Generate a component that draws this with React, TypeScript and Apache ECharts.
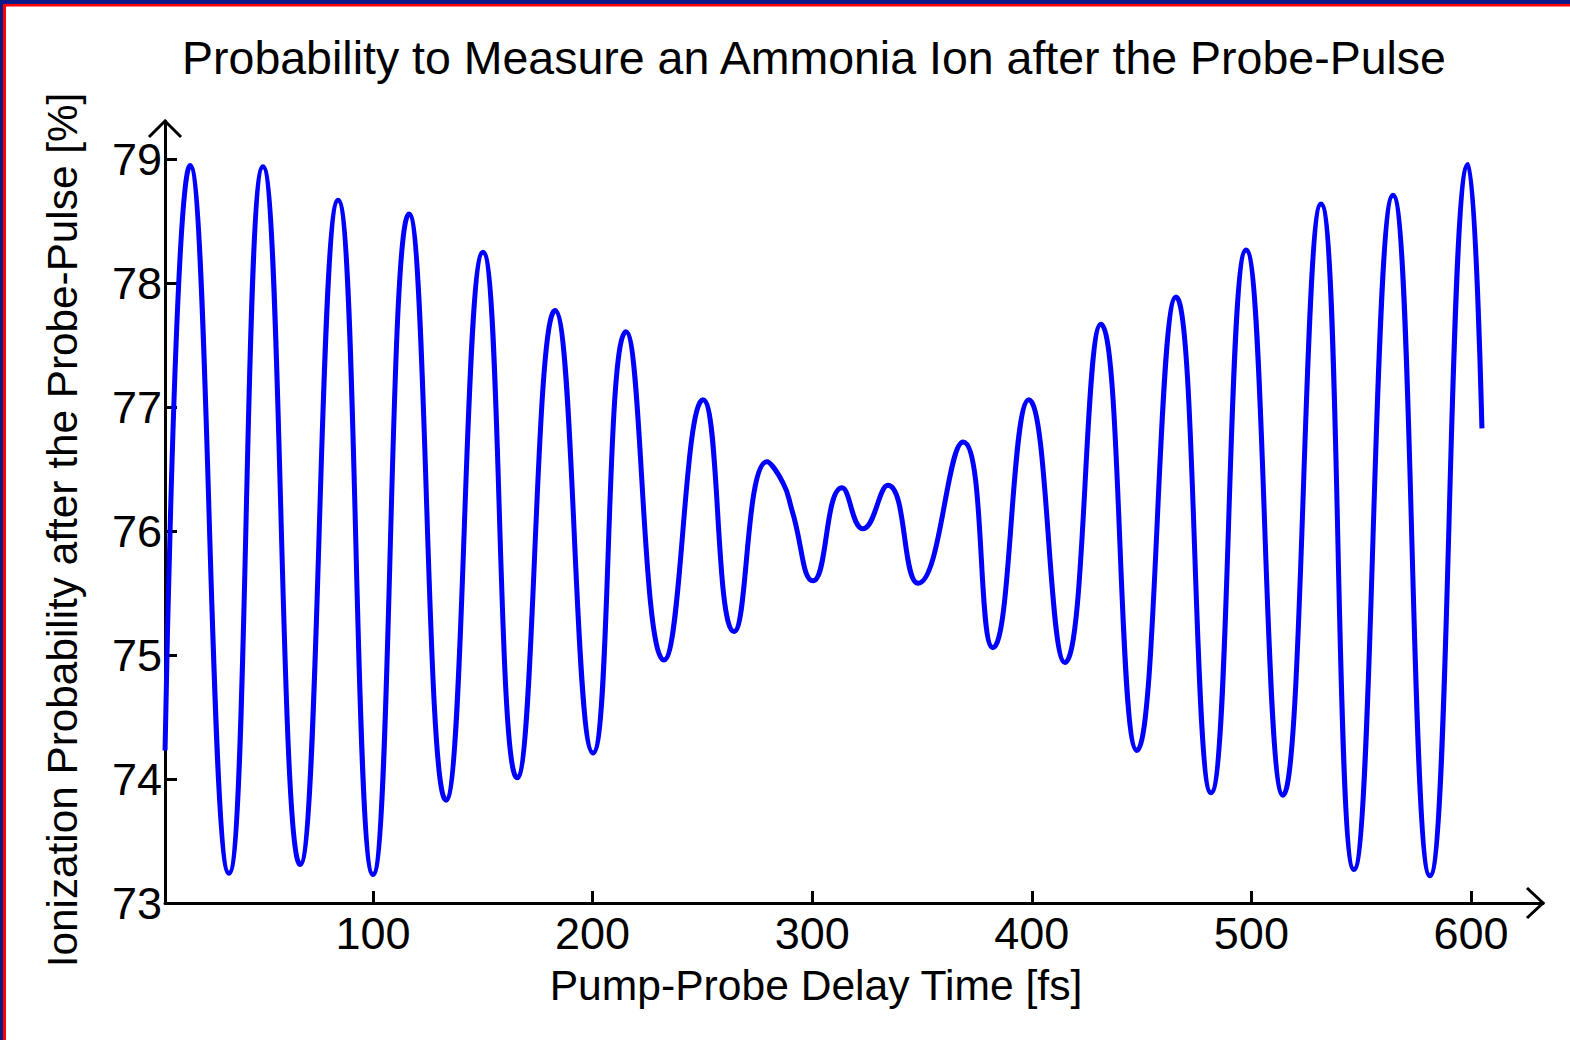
import React, { useEffect, useRef } from "react";
import * as echarts from "echarts";

const delayTime = [
  5.3, 16.7, 34.4, 49.9, 66.8, 84.1, 100.0, 116.4, 133.2, 150.1, 165.6, 182.9, 200.2,
  215.2, 232.5, 250.3, 264.4, 279.4, 286.7, 290.8, 300.4, 313.6, 323.1, 334.5, 348.2,
  368.7, 382.3, 398.7, 415.1, 431.5, 447.9, 465.7, 481.6, 497.6, 514.4, 531.7, 546.7,
  564.5, 581.3, 598.7, 605.0,
];
const probability = [
  74.23, 78.95, 73.24, 78.94, 73.31, 78.67, 73.23, 78.56, 73.83, 78.25, 74.01, 77.78, 74.21,
  77.61, 74.96, 77.06, 75.19, 76.56, 76.39, 76.17, 75.6, 76.35, 76.02, 76.37, 75.58,
  76.72, 75.06, 77.06, 74.94, 77.67, 74.23, 77.89, 73.89, 78.27, 73.87, 78.64, 73.27,
  78.71, 73.22, 78.96, 76.83,
];
const xTicks = [100, 200, 300, 400, 500, 600];
const yTicks = [73, 74, 75, 76, 77, 78, 79];

const chartTitle = "Probability to Measure an Ammonia Ion after the Probe-Pulse";
const xTitle = "Pump-Probe Delay Time [fs]";
const yTitle = "Ionization Probability after the Probe-Pulse [%]";

const FONT = "'Liberation Sans', Arial, Helvetica, sans-serif";

export default function App() {
  const ref = useRef<HTMLDivElement>(null);
  useEffect(() => {
    document.body.style.margin = "0";
    const chart = echarts.init(ref.current!, null, { renderer: "svg" });
    const gridLeft = 165;
    const gridRight = 1543;
    const gridTop = 121;
    const gridBottom = 903;
    chart.setOption({
      animation: false,
      backgroundColor: "#ffffff",
      grid: {
        left: gridLeft,
        right: 1570 - gridRight,
        top: gridTop,
        bottom: 1040 - gridBottom,
        containLabel: false,
      },
      xAxis: {
        type: "value",
        min: 5.28,
        max: 632.8,
        splitLine: { show: false },
        axisLine: { onZero: false, lineStyle: { color: "#000", width: 3 } },
        axisTick: {
          inside: true,
          length: 12,
          customValues: xTicks,
          lineStyle: { color: "#000", width: 3 },
        },
        axisLabel: {
          customValues: xTicks,
          color: "#000",
          fontSize: 45,
          fontFamily: FONT,
          margin: 8,
        },
      },
      yAxis: {
        type: "value",
        min: 73,
        max: 79.31,
        splitLine: { show: false },
        axisLine: { onZero: false, lineStyle: { color: "#000", width: 3 } },
        axisTick: {
          inside: true,
          length: 12,
          customValues: yTicks,
          lineStyle: { color: "#000", width: 3 },
        },
        axisLabel: {
          customValues: yTicks,
          color: "#000",
          fontSize: 45,
          fontFamily: FONT,
          margin: 3,
        },
      },
      series: [
        {
          type: "line",
          data: delayTime.map((x, i) => [x, probability[i]]),
          showSymbol: false,
          smooth: 0.5,
          lineStyle: { color: "#0000ff", width: 5 },
          z: 3,
        },
      ],
      graphic: [
        { type: "rect", shape: { x: 0, y: 0, width: 1570, height: 4 }, style: { fill: "#0e1a88" }, z: 100 },
        { type: "rect", shape: { x: 0, y: 0, width: 3, height: 1040 }, style: { fill: "#0e1a88" }, z: 100 },
        { type: "rect", shape: { x: 3, y: 4, width: 1567, height: 2.5 }, style: { fill: "#ff0000" }, z: 100 },
        { type: "rect", shape: { x: 3, y: 4, width: 3, height: 1036 }, style: { fill: "#ff0000" }, z: 100 },
        {
          type: "polyline",
          shape: { points: [[gridRight - 16, gridBottom - 15], [gridRight, gridBottom], [gridRight - 16, gridBottom + 15]] },
          style: { stroke: "#000", lineWidth: 3, fill: "none" },
          z: 50,
        },
        {
          type: "polyline",
          shape: { points: [[gridLeft - 16, gridTop + 16], [gridLeft, gridTop], [gridLeft + 16, gridTop + 16]] },
          style: { stroke: "#000", lineWidth: 3, fill: "none" },
          z: 50,
        },
        {
          type: "text",
          x: 814,
          y: 58,
          style: {
            text: chartTitle,
            fill: "#000",
            font: `46.5px ${FONT}`,
            textAlign: "center",
            textVerticalAlign: "middle",
          },
        },
        {
          type: "text",
          x: 816,
          y: 985,
          style: {
            text: xTitle,
            fill: "#000",
            font: `42.6px ${FONT}`,
            textAlign: "center",
            textVerticalAlign: "middle",
          },
        },
        {
          type: "text",
          x: 62,
          y: 530,
          rotation: Math.PI / 2,
          style: {
            text: yTitle,
            fill: "#000",
            font: `42.3px ${FONT}`,
            textAlign: "center",
            textVerticalAlign: "middle",
          },
        },
      ],
    });
    return () => chart.dispose();
  }, []);
  return (
    <div
      ref={ref}
      style={{ position: "absolute", left: 0, top: 0, width: 1570, height: 1040, background: "#fff" }}
    />
  );
}
